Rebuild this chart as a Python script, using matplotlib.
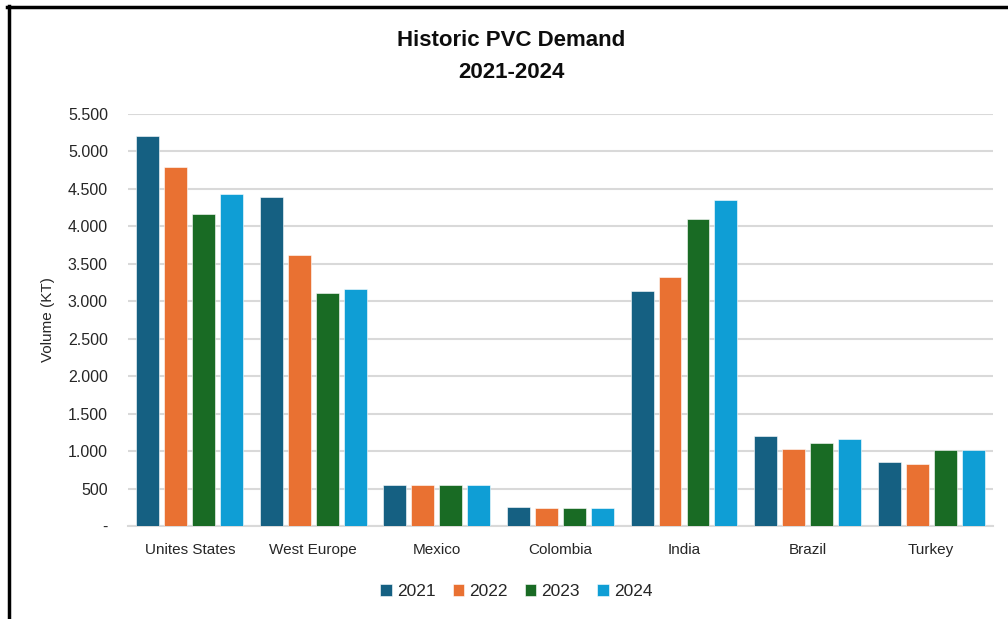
import numpy as np
import matplotlib.pyplot as plt
from matplotlib.lines import Line2D
from matplotlib.ticker import FuncFormatter

# =========================
# Data
# =========================
regions = ["Unites States", "West Europe", "Mexico", "Colombia", "India", "Brazil", "Turkey"]
years = ["2021", "2022", "2023", "2024"]
demand_2021 = [5200, 4390, 545, 250, 3140, 1205, 860]
demand_2022 = [4790, 3620, 545, 235, 3320, 1030, 830]
demand_2023 = [4160, 3105, 545, 235, 4095, 1110, 1015]
demand_2024 = [4430, 3165, 545, 235, 4350, 1165, 1015]
yticks = [0, 500, 1000, 1500, 2000, 2500, 3000, 3500, 4000, 4500, 5000, 5500]

colors = ["#156082", "#E97132", "#196B24", "#0F9ED5"]

plt.rcParams["font.family"] = ["Liberation Sans", "DejaVu Sans"]


def fmt(v, pos):
    if v == 0:
        return "-"
    return f"{int(v):,}".replace(",", ".")


# =========================
# Grouped bar chart
# =========================
fig = plt.figure(figsize=(10.08, 6.19), dpi=100)
ax = fig.add_axes([0.127, 0.1502, 0.858, 0.6656])

x = np.arange(len(regions))
slot = 0.2265
width = 0.186
series = [demand_2021, demand_2022, demand_2023, demand_2024]
for i, (vals, year) in enumerate(zip(series, years)):
    ax.bar(x + (i - 1.5) * slot, vals, width, color=colors[i], label=year,
           edgecolor="white", linewidth=0.4, zorder=3)

ax.set_xlim(-0.5, len(regions) - 0.5)
ax.set_ylim(0, 5500)
ax.set_yticks(yticks)
ax.yaxis.set_major_formatter(FuncFormatter(fmt))
ax.set_xticks(x)
ax.set_xticklabels(regions, fontsize=11, color="#262626")
ax.tick_params(axis="y", labelsize=11.5, labelcolor="#262626", length=0, pad=14.5)
ax.tick_params(axis="x", length=0, pad=12)
ax.grid(axis="y", color="#D9D9D9", linewidth=1.5, zorder=0)
for s in ["top", "right", "left"]:
    ax.spines[s].set_visible(False)
ax.spines["bottom"].set_color("#D9D9D9")
ax.spines["bottom"].set_linewidth(1.5)
ax.set_ylabel("Volume (KT)", fontsize=11, color="#262626", labelpad=9)

fig.text(0.507, 0.935, "Historic PVC Demand", ha="center", va="center",
         fontsize=16, fontweight="bold", color="#0D0D0D")
fig.text(0.507, 0.883, "2021-2024", ha="center", va="center",
         fontsize=16, fontweight="bold", color="#0D0D0D")

ax.legend(loc="center", bbox_to_anchor=(0.449, -0.159), ncol=4, frameon=False,
          fontsize=12.5, handlelength=0.65, handleheight=0.65, handletextpad=0.3,
          columnspacing=1.0, labelcolor="#262626")

# outer border (left and top only, the rest is cropped)
fig.add_artist(Line2D([0.0085, 0.0085], [0, 0.99], transform=fig.transFigure,
                      color="black", linewidth=2.5))
fig.add_artist(Line2D([0.0072, 1.0], [0.988, 0.988], transform=fig.transFigure,
                      color="black", linewidth=2.5))

plt.savefig("out.png", dpi=100)
plt.close()
